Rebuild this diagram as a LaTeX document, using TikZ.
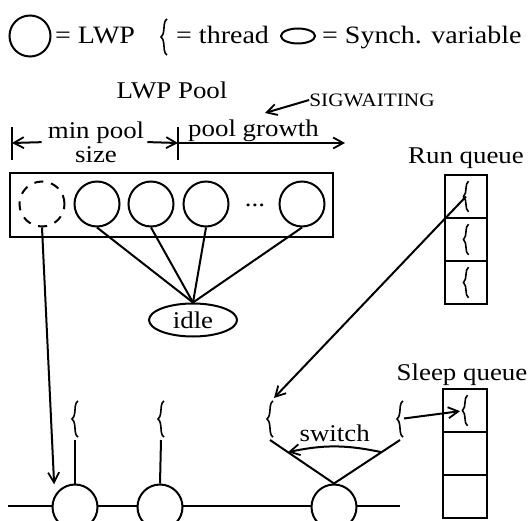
\documentclass[tikz,border=0pt]{standalone}
\usepackage{fontspec}
\setmainfont{Liberation Serif}[FakeStretch=1.12]
\usetikzlibrary{arrows.meta,shapes.geometric,positioning}

\tikzset{
  lwp/.style={circle,draw,line width=2pt,minimum size=45pt,inner sep=0pt,fill=white},
  sync/.style={ellipse,draw,line width=2pt,inner sep=0pt},
  cell/.style={rectangle,draw,line width=2pt,minimum width=42pt,minimum height=43pt,inner sep=0pt,outer sep=0pt},
  txt/.style={font=\fontsize{24}{24}\selectfont,inner sep=0pt},
  keytxt/.style={font=\fontsize{25}{25}\selectfont,inner sep=0pt,anchor=base west},
  conn/.style={line width=2pt},
  thread/.pic={
    \draw[line width=1.6pt] (3,-18) .. controls (-2,-15) and (2,-4) .. (-3,0)
      .. controls (2,4) and (-2,15) .. (3,18);
    \coordinate (-top) at (4,-21);
    \coordinate (-bot) at (0,21);
    \coordinate (-c) at (0,0);
  },
  >={Straight Barb[length=10pt,width=11pt,line width=1.8pt]}
}

\begin{document}
\begin{tikzpicture}[x=1pt,y=-1pt]
\useasboundingbox (0,0) rectangle (532,521);

% Legend
\node[lwp,minimum size=41pt] (keylwp) at (30,36) {};
\node[keytxt] (keylwptxt) at (55,44) {= LWP};
\pic (keythr) at (164,37) {thread};
\node[keytxt] (keythrtxt) at (176,44) {= thread};
\node[sync,minimum width=34pt,minimum height=15pt] (keysync) at (298,36) {};
\node[keytxt] (keysynctxt) at (322,44) {= Synch. variable};

% LWP pool and its sizes
\node[txt] (pooltitle) at (172,90) {LWP Pool};
\node[txt,font=\fontsize{19}{19}\selectfont] (sig) at (372,100) {SIGWAITING};
\coordinate (sigtip) at (265,113);
\draw[conn,->] (sig.west) -- (sigtip);

\coordinate (tickL) at (12,143);
\coordinate (tickM) at (178,143);
\coordinate (growR) at (345,143);
\draw[conn] ([yshift=16pt]tickL) -- ([yshift=-17pt]tickL);
\draw[conn] ([yshift=16pt]tickM) -- ([yshift=-17pt]tickM);
\node[txt,align=center] (minpool) at (96,142) {min pool\\size};
\draw[conn,->,shorten <=6pt] (minpool.west) -- (tickL);
\draw[conn,->,shorten <=3pt] (minpool.east) -- (tickM);
\draw[conn,->] (tickM) -- (growR);
\node[txt,anchor=base west] (growth) at (188,137) {pool growth};

\node[rectangle,draw,line width=2pt,minimum width=323pt,minimum height=64pt] (pool) at (171.5,205) {};
\node[lwp,dash pattern=on 9pt off 8pt] (p0) at (42,204) {};
\foreach \n/\x in {1/97,2/151,3/206,4/302}
  \node[lwp] (p\n) at (\x,204) {};
\node[txt] (dots) at (255,205) {...};

\node[sync,txt,minimum width=88pt,minimum height=33pt] (idle) at (193,320) {idle};
\foreach \n in {1,...,4}
  \draw[conn] (p\n.south) -- (idle.north);

% Run queue
\node[txt] (rqlabel) at (466,158) {Run queue};
\node[cell] (rq1) at (466,196.5) {};
\node[cell,below=0pt of rq1] (rq2) {};
\node[cell,below=0pt of rq2] (rq3) {};
\foreach \n in {1,2,3}
  \pic[scale=0.85] (rqt\n) at (rq\n) {thread};

% Sleep queue
\node[txt] (sqlabel) at (462,375) {Sleep queue};
\node[cell,minimum width=44pt] (sq1) at (465,410.5) {};
\node[cell,minimum width=44pt,below=0pt of sq1] (sq2) {};
\node[cell,minimum width=44pt,below=0pt of sq2] (sq3) {};
\pic[scale=0.85] (sqt1) at (sq1) {thread};

% Kernel threads
\coordinate (lineL) at (8,506);
\coordinate (lineR) at (400,506);
\draw[conn] (lineL) -- (lineR);
\node[lwp] (b1) at (75,507) {};
\node[lwp] (b2) at (160,507) {};
\node[lwp] (b3) at (334,507) {};
\pic (t1) at (75,419) {thread};
\pic (t2) at (161,419) {thread};
\pic (t3) at (270,419) {thread};
\pic (t4) at (400,419) {thread};
\draw[conn] (b1.north) -- (t1-bot);
\draw[conn] (b2.north) -- (t2-bot);
\draw[conn] (b3.north) -- (t3-bot) coordinate[pos=0.72] (swL);
\draw[conn] (b3.north) -- (t4-bot) coordinate[pos=0.72] (swR);
\draw[conn,->] (swR) to[bend right=12] node[txt,midway,above=4pt] (switch) {switch} (swL);

\draw[conn,->] (rqt1-c) -- (t3-top);
\draw[conn,->,shorten <=4pt,shorten >=5pt] (t4-c) -- (sqt1-c);
\draw[conn,->,shorten >=11pt] (p0.south) -- (b1.150);
\end{tikzpicture}
\end{document}
